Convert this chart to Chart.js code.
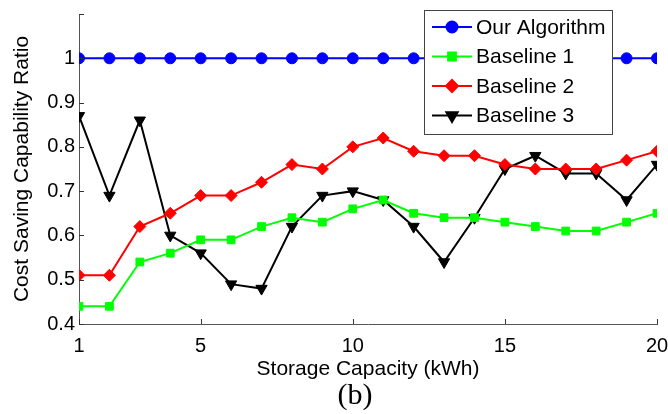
<!DOCTYPE html>
<html>
<head>
<meta charset="utf-8">
<script src="https://cdn.jsdelivr.net/npm/chart.js@4/dist/chart.umd.min.js"></script>
<style>
    html, body { margin: 0; padding: 0; background: #fff; }
    #wrap { width: 668px; height: 414px; position: relative; }
</style>
</head>
<body>
<div id="wrap"><canvas id="grafico" width="668" height="414"></canvas></div>
<script>
// datos
const capacidad = [1, 2, 3, 4, 5, 6, 7, 8, 9, 10, 11, 12, 13, 14, 15, 16, 17, 18, 19, 20];
const ticksX = [1, 5, 10, 15, 20];
const ticksY = [0.4, 0.5, 0.6, 0.7, 0.8, 0.9, 1];

const nuestro = [1, 1, 1, 1, 1, 1, 1, 1, 1, 1, 1, 1, 1, 1, 1, 1, 1, 1, 1, 1];
const base1 = [0.44, 0.44, 0.54, 0.56, 0.59, 0.59, 0.62, 0.64, 0.63, 0.66, 0.68, 0.65, 0.64, 0.64, 0.63, 0.62, 0.61, 0.61, 0.63, 0.65];
const base2 = [0.51, 0.51, 0.62, 0.65, 0.69, 0.69, 0.72, 0.76, 0.75, 0.80, 0.82, 0.79, 0.78, 0.78, 0.76, 0.75, 0.75, 0.75, 0.77, 0.79];
const base3 = [0.87, 0.69, 0.86, 0.60, 0.56, 0.49, 0.48, 0.62, 0.69, 0.70, 0.68, 0.62, 0.54, 0.64, 0.75, 0.78, 0.74, 0.74, 0.68, 0.76];

const FUENTE = "'Liberation Sans', Arial, sans-serif";

function serie(nombre, valores, color, estilo, radio, rotacion) {
    return {
        label: nombre,
        data: valores.map((v, i) => ({ x: capacidad[i], y: v })),
        borderColor: color,
        backgroundColor: color,
        borderWidth: 2,
        pointStyle: estilo,
        pointRadius: radio,
        pointRotation: rotacion || 0,
        pointBorderWidth: 1,
        pointBorderColor: color,
        tension: 0
    };
}

// leyenda al estilo matlab (linea + marcador)
const leyenda = {
    id: "leyenda",
    afterDraw(chart) {
        const ctx = chart.ctx;
        const x0 = 424, y0 = 10, w = 188, h = 124;
        ctx.save();
        ctx.fillStyle = "#fff";
        ctx.fillRect(x0, y0, w, h);
        ctx.strokeStyle = "#444";
        ctx.lineWidth = 1;
        ctx.strokeRect(x0 + 0.5, y0 + 0.5, w, h);
        ctx.font = "21px " + FUENTE;
        ctx.textBaseline = "middle";
        chart.data.datasets.forEach((ds, i) => {
            const yy = y0 + 17 + i * 29.5;
            ctx.strokeStyle = ds.borderColor;
            ctx.lineWidth = 2;
            ctx.beginPath();
            ctx.moveTo(x0 + 8, yy);
            ctx.lineTo(x0 + 48, yy);
            ctx.stroke();
            Chart.helpers.drawPoint(ctx, {
                pointStyle: ds.pointStyle,
                radius: ds.pointRadius,
                rotation: ds.pointRotation,
                borderWidth: 1
            }, x0 + 28, yy);
            ctx.fillStyle = ds.borderColor;
            ctx.fill();
            ctx.fillStyle = "#000";
            ctx.fillText(ds.label, x0 + 52, yy + 1);
        });
        ctx.restore();
    }
};

// ticks hacia dentro y el "(b)"
const extras = {
    id: "extras",
    afterDraw(chart) {
        const ctx = chart.ctx;
        const a = chart.chartArea;
        const sx = chart.scales.x, sy = chart.scales.y;
        ctx.save();
        ctx.strokeStyle = "#333";
        ctx.lineWidth = 1;
        ctx.beginPath();
        ticksX.forEach(t => {
            const px = Math.round(sx.getPixelForValue(t)) + 0.5;
            ctx.moveTo(px, a.bottom);
            ctx.lineTo(px, a.bottom - 5);
        });
        ticksY.concat([1.1]).forEach(t => {
            const py = Math.round(sy.getPixelForValue(t)) + 0.5;
            ctx.moveTo(a.left, py);
            ctx.lineTo(a.left + 5, py);
        });
        ctx.stroke();
        ctx.fillStyle = "#000";
        ctx.font = "30px 'Liberation Serif', 'Times New Roman', serif";
        ctx.textAlign = "center";
        ctx.textBaseline = "middle";
        ctx.fillText("(b)", 355, 396);
        ctx.restore();
    }
};

new Chart(document.getElementById("grafico"), {
    type: "line",
    data: {
        datasets: [
            serie("Our Algorithm", nuestro, "#0000ff", "circle", 5.5),
            serie("Baseline 1", base1, "#00ff00", "rect", 5.5),
            serie("Baseline 2", base2, "#ff0000", "rectRot", 6),
            serie("Baseline 3", base3, "#000000", "triangle", 6.5, 180)
        ]
    },
    options: {
        responsive: false,
        animation: false,
        layout: { padding: { top: 14, right: 11, left: 0, bottom: 32 } },
        plugins: {
            legend: { display: false },
            tooltip: { enabled: false }
        },
        scales: {
            x: {
                type: "linear",
                min: 1,
                max: 20,
                afterBuildTicks: s => { s.ticks = ticksX.map(v => ({ value: v })); },
                afterFit: s => { s.height = 58; s.paddingRight = 0; s.paddingLeft = 0; },
                grid: { display: false, drawTicks: false },
                border: { color: "#555", width: 1 },
                ticks: { color: "#000", font: { family: FUENTE, size: 20 }, padding: 10, maxRotation: 0, autoSkip: false },
                title: {
                    display: true,
                    text: "Storage Capacity (kWh)",
                    color: "#000",
                    font: { family: FUENTE, size: 21 },
                    padding: { top: 0, bottom: 0 }
                }
            },
            y: {
                min: 0.4,
                max: 1.1,
                afterBuildTicks: s => { s.ticks = ticksY.map(v => ({ value: v })); },
                afterFit: s => { s.width = 79; s.paddingTop = 0; s.paddingBottom = 0; },
                grid: { display: false, drawTicks: false },
                border: { color: "#555", width: 1 },
                ticks: {
                    color: "#000",
                    font: { family: FUENTE, size: 20 },
                    padding: 4,
                    callback: v => String(Math.round(v * 10) / 10)
                },
                title: {
                    display: true,
                    text: "Cost Saving Capability Ratio",
                    color: "#000",
                    font: { family: FUENTE, size: 21 },
                    padding: { top: 10, bottom: 2 }
                }
            }
        }
    },
    plugins: [leyenda, extras]
});
</script>
</body>
</html>
